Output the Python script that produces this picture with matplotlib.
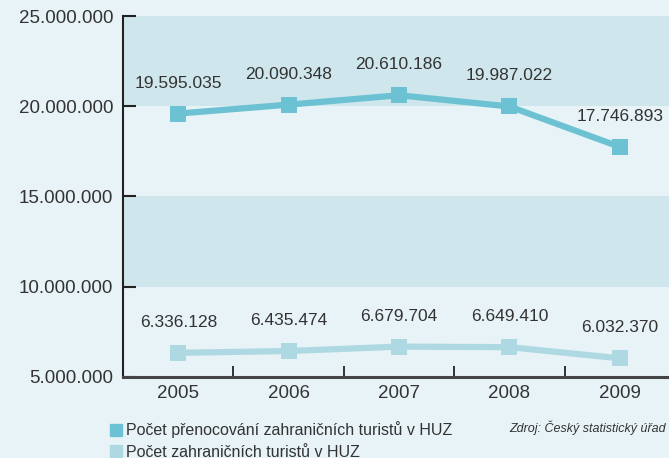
import matplotlib

matplotlib.use("Agg")
import matplotlib.pyplot as plt
from matplotlib.patches import Patch
from matplotlib.ticker import FuncFormatter

YEARS = ["2005", "2006", "2007", "2008", "2009"]
NIGHTS = [19595035, 20090348, 20610186, 19987022, 17746893]
TOURISTS = [6336128, 6435474, 6679704, 6649410, 6032370]
LABEL_NIGHTS = "Počet přenocování zahraničních turistů v HUZ"
LABEL_TOURISTS = "Počet zahraničních turistů v HUZ"
SOURCE = "Zdroj: Český statistický úřad"

BG = "#e8f3f7"
BAND = "#cfe7ec"
C_NIGHTS = "#6cc2d3"
C_TOURISTS = "#aed9e3"
TXT = "#333333"

plt.rcParams["font.family"] = ["Liberation Sans", "DejaVu Sans"]


def dotted(v, _pos=None):
    return f"{int(round(v)):,}".replace(",", ".")


fig = plt.figure(figsize=(6.69, 4.58), dpi=100, facecolor=BG)
ax = fig.add_axes([0.184, 0.177, 0.82, 0.788])
ax.set_facecolor(BG)

# shaded horizontal bands
ax.axhspan(20e6, 25e6, color=BAND, zorder=0, lw=0)
ax.axhspan(10e6, 15e6, color=BAND, zorder=0, lw=0)

x = list(range(len(YEARS)))
for vals, col in [(NIGHTS, C_NIGHTS), (TOURISTS, C_TOURISTS)]:
    ax.plot(x, vals, color=col, lw=4.5, marker="s", ms=12,
            markeredgewidth=0, zorder=3)
    for xi, v in zip(x, vals):
        ax.annotate(dotted(v), (xi, v), xytext=(0, 22), textcoords="offset points",
                    ha="center", va="center", fontsize=12.5, color=TXT)

ax.set_xlim(-0.5, 4.47)
ax.set_ylim(5e6, 25e6)
ax.set_yticks([5e6, 10e6, 15e6, 20e6, 25e6])
ax.yaxis.set_major_formatter(FuncFormatter(dotted))
ax.tick_params(axis="y", direction="in", length=9, width=1.5, color="#222222",
               labelsize=13.5, labelcolor=TXT, pad=7)
ax.set_xticks(x)
ax.set_xticklabels(YEARS)
ax.set_xticks([0.5, 1.5, 2.5, 3.5], minor=True)
ax.tick_params(axis="x", which="major", length=0, labelsize=13.5, labelcolor=TXT, pad=6)
ax.tick_params(axis="x", which="minor", direction="in", length=8, width=1.3,
               color="#222222")
for s in ["top", "right"]:
    ax.spines[s].set_visible(False)
ax.spines["left"].set_color("#222222")
ax.spines["left"].set_linewidth(1.5)
ax.spines["bottom"].set_color("#444444")
ax.spines["bottom"].set_linewidth(2.2)

handles = [Patch(color=C_NIGHTS, label=LABEL_NIGHTS),
           Patch(color=C_TOURISTS, label=LABEL_TOURISTS)]
fig.legend(handles=handles, loc="upper left", bbox_to_anchor=(0.165, 0.08),
           frameon=False, fontsize=11.5, handlelength=0.75, handleheight=0.75,
           handletextpad=0.2, labelspacing=0.4, borderaxespad=0, borderpad=0,
           labelcolor=TXT)
fig.text(0.995, 0.065, SOURCE, ha="right", va="center", fontsize=9,
         style="italic", color=TXT)

fig.savefig("out.png", dpi=100, facecolor=BG)
